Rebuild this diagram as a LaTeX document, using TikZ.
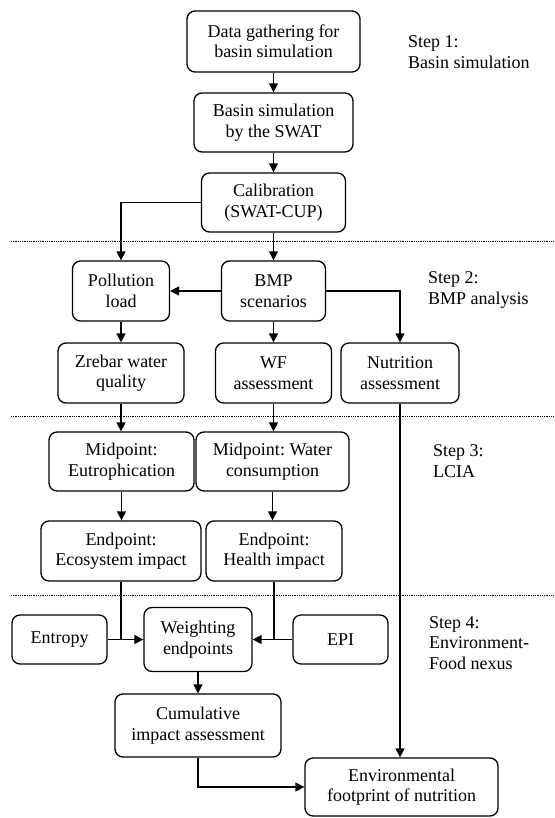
\documentclass[tikz,border=0pt]{standalone}
\usepackage{fontspec}
\setmainfont{Liberation Serif}
\usetikzlibrary{arrows.meta}
\frenchspacing
\begin{document}
\begin{tikzpicture}[x=1pt,y=-1pt,
  box/.style={draw, rounded corners=8pt, align=center, inner sep=0pt, line width=1.3pt,
    font=\fontsize{18}{20.5}\selectfont},
  lbl/.style={anchor=west, align=left, inner sep=0pt, font=\fontsize{18}{20.5}\selectfont},
  arr/.style={line width=1.4pt, -{Triangle[length=9pt,width=9pt]}},
  ln/.style={line width=1.4pt},
  sep/.style={line width=0.6pt, dash pattern=on 0.8pt off 1pt}]
\useasboundingbox (0,0) rectangle (554,818);
% boxes
\node[box, minimum width=173pt, minimum height=61pt] (data) at (273.5,41.5) {Data gathering for\\basin simulation};
\node[box, minimum width=159pt, minimum height=59pt] (swat) at (273.5,122.5) {Basin simulation\\by the SWAT};
\node[box, minimum width=144pt, minimum height=59pt] (calib) at (273.5,202.5) {Calibration\\(SWAT-CUP)};
\node[box, minimum width=97pt, minimum height=60pt] (poll) at (121,291) {Pollution\\load};
\node[box, minimum width=104pt, minimum height=60pt] (bmp) at (273.5,291) {BMP\\scenarios};
\node[box, minimum width=126pt, minimum height=60pt] (zrebar) at (121,373) {Zrebar water\\quality};
\node[box, minimum width=116pt, minimum height=60pt] (wf) at (273.5,373) {WF\\assessment};
\node[box, minimum width=118pt, minimum height=60pt] (nutr) at (400,373) {Nutrition\\assessment};
\node[box, minimum width=145pt, minimum height=59pt] (mideu) at (121.5,461.5) {Midpoint:\\Eutrophication};
\node[box, minimum width=153pt, minimum height=59pt] (midwa) at (272.5,461.5) {Midpoint: Water\\consumption};
\node[box, minimum width=160pt, minimum height=60pt] (endeco) at (121,551) {Endpoint:\\Ecosystem impact};
\node[box, minimum width=136pt, minimum height=60pt] (endhe) at (274,551) {Endpoint:\\Health impact};
\node[box, minimum width=95pt, minimum height=49pt] (entropy) at (59.5,639.5) {Entropy};
\node[box, minimum width=108pt, minimum height=64pt] (weight) at (198,639.5) {Weighting\\endpoints};
\node[box, minimum width=95pt, minimum height=49pt] (epi) at (340.5,639.5) {EPI};
\node[box, minimum width=166pt, minimum height=63pt] (cum) at (198,725.5) {Cumulative\\impact assessment};
\node[box, minimum width=193pt, minimum height=58pt] (env) at (401.5,787) {Environmental\\footprint of nutrition};
% step labels
\node[lbl] (s1) at (408,52) {Step 1:\\Basin simulation};
\node[lbl] (s2) at (428,290) {Step 2:\\BMP analysis};
\node[lbl] (s3) at (433,461) {Step 3:\\LCIA};
\node[lbl] (s4) at (429,643) {Step 4:\\Environment-\\Food nexus};
% separators
\draw[sep] (11,241) -- (554,241);
\draw[sep] (11,416) -- (554,416);
\draw[sep] (11,595) -- (554,595);
% connectors
\draw[arr] (data) -- (swat);
\draw[arr] (swat) -- (calib);
\draw[arr] (calib.west) -| (poll.north);
\draw[arr] (calib) -- (bmp);
\draw[arr] (bmp.west) -- (poll.east);
\draw[arr] (bmp.east) -| (nutr.north);
\draw[arr] (poll) -- (zrebar);
\draw[arr] (bmp) -- (wf);
\draw[arr] (zrebar) -- (zrebar.south |- mideu.north);
\draw[arr] (wf) -- (wf.south |- midwa.north);
\draw[arr] (mideu.south) -- (mideu.south |- endeco.north);
\draw[arr] (midwa.south) -- (midwa.south |- endhe.north);
\draw[ln] (endeco.south) -- (endeco.south |- weight.west);
\draw[ln] (endhe.south) -- (endhe.south |- weight.east);
\draw[arr] (entropy.east) -- (weight.west);
\draw[arr] (epi.west) -- (weight.east);
\draw[arr] (weight) -- (cum);
\draw[arr] (cum.south) |- (env.west);
\draw[arr] (nutr.south) -- (nutr.south |- env.north);
\end{tikzpicture}
\end{document}
